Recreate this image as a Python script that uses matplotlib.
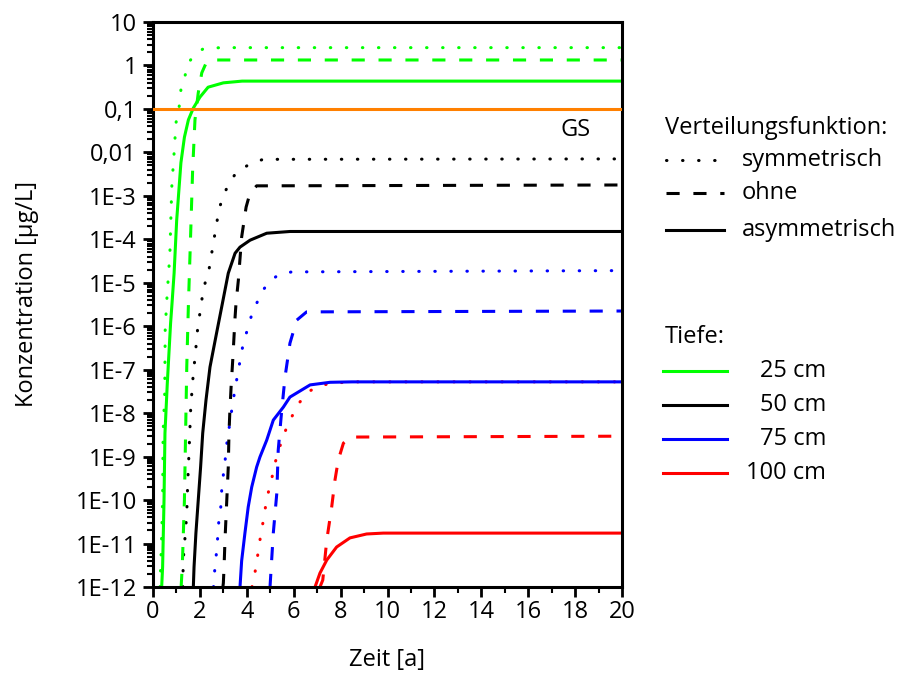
import numpy as np
import matplotlib
matplotlib.use("Agg")
import matplotlib.pyplot as plt
from matplotlib.lines import Line2D
from matplotlib.ticker import FixedLocator, FuncFormatter, LogLocator, MultipleLocator

plt.rcParams['font.family'] = ['Open Sans', 'DejaVu Sans']

# ---- data (time in years, log10 of concentration in ug/L) ----
g_sym_t = [0.30, 0.36, 0.41, 0.43, 0.50, 0.52, 0.58, 0.72, 0.80, 0.90, 0.98, 1.11, 1.19, 1.32, 1.51, 1.76, 2.13, 2.86, 20]
g_sym_l = [-12, -11, -10, -8.46, -7.54, -6.09, -5.47, -4.32, -2.80, -2.01, -1.32, -0.98, -0.56, -0.33, 0.06, 0.24, 0.38, 0.41, 0.41]
g_ohne_t = [1.20, 1.25, 1.34, 1.39, 1.44, 1.51, 1.58, 1.69, 1.79, 1.93, 2.08, 2.29, 2.6, 20]
g_ohne_l = [-12, -11.5, -10, -8.46, -6.93, -5.5, -4.32, -2.41, -1.25, -0.63, -0.17, 0.087, 0.126, 0.126]
g_asym_t = [0.37, 0.41, 0.47, 0.51, 0.61, 0.75, 0.80, 0.90, 1.01, 1.19, 1.34, 1.51, 1.72, 2.0, 2.35, 3.0, 3.8, 20]
g_asym_l = [-12, -11.54, -10, -8.46, -7.31, -5.93, -5.56, -4.78, -3.56, -2.24, -1.65, -1.25, -0.98, -0.73, -0.50, -0.40, -0.36, -0.36]

k_sym_t = [1.27, 1.29, 1.39, 1.44, 1.48, 1.54, 1.61, 1.72, 1.79, 1.91, 2.00, 2.10, 2.22, 2.40, 2.61, 2.81, 2.97, 3.21, 3.54, 4.06, 4.69, 20]
k_sym_l = [-12, -11.38, -10.69, -10.30, -9.61, -8.85, -7.86, -7.08, -6.73, -6.02, -5.70, -5.33, -5.01, -4.66, -3.97, -3.33, -3.03, -2.75, -2.47, -2.29, -2.16, -2.15]
k_ohne_t = [2.98, 3.00, 3.03, 3.07, 3.21, 3.24, 3.28, 3.33, 3.40, 3.50, 3.54, 3.64, 3.78, 3.97, 4.14, 4.42, 20]
k_ohne_l = [-12, -11.91, -11.54, -10.92, -9.24, -8.46, -7.93, -7.40, -6.78, -5.79, -5.47, -4.94, -3.95, -3.26, -2.93, -2.77, -2.75]
k_asym_t = [1.72, 1.75, 1.83, 1.93, 2.03, 2.12, 2.26, 2.43, 2.71, 2.95, 3.21, 3.50, 3.71, 4.14, 4.85, 5.84, 20]
k_asym_l = [-12, -11.54, -10.76, -10, -9.24, -8.46, -7.70, -6.94, -6.16, -5.5, -4.78, -4.32, -4.18, -4.02, -3.86, -3.82, -3.82]

b_sym_t = [2.58, 2.60, 2.64, 2.72, 2.81, 2.89, 2.93, 3.00, 3.07, 3.14, 3.42, 3.53, 3.64, 3.85, 4.02, 4.18, 4.39, 4.64, 4.95, 5.34, 5.91, 20]
b_sym_l = [-12, -11.89, -11.54, -11.15, -10.46, -10.16, -9.77, -9.42, -9.12, -8.73, -7.70, -7.35, -7.01, -6.39, -6.09, -5.79, -5.51, -5.21, -4.98, -4.82, -4.75, -4.72]
b_ohne_t = [4.99, 5.13, 5.28, 5.34, 5.49, 5.63, 5.84, 6.13, 6.55, 20]
b_ohne_l = [-12, -10.76, -9.84, -8.85, -7.93, -7.17, -6.39, -5.86, -5.67, -5.65]
b_asym_t = [3.71, 3.78, 3.92, 4.06, 4.21, 4.42, 4.56, 4.85, 5.13, 5.56, 5.84, 6.27, 6.70, 7.55, 8.5, 20]
b_asym_l = [-12, -11.4, -10.76, -10.16, -9.70, -9.24, -9.01, -8.62, -8.16, -7.86, -7.63, -7.49, -7.35, -7.29, -7.28, -7.28]

r_sym_t = [4.22, 4.32, 4.42, 4.52, 4.61, 4.73, 4.82, 4.96, 5.10, 5.23, 5.39, 5.56, 5.77, 6.03, 6.27, 6.62, 7.05, 7.62, 8.5, 20]
r_sym_l = [-12, -11.77, -11.42, -11.08, -10.73, -10.41, -10.07, -9.72, -9.42, -9.10, -8.80, -8.53, -8.23, -7.97, -7.74, -7.51, -7.38, -7.31, -7.28, -7.28]
r_ohne_t = [7.12, 7.24, 7.41, 7.62, 7.76, 7.90, 8.12, 8.40, 20]
r_ohne_l = [-12, -11.84, -10.92, -10.16, -9.54, -9.08, -8.69, -8.55, -8.53]
r_asym_t = [6.91, 7.12, 7.41, 7.83, 8.40, 9.11, 9.82, 20]
r_asym_l = [-12, -11.68, -11.38, -11.08, -10.87, -10.78, -10.76, -10.76]

gs_value = 0.1
gs_label = "GS"

depth_labels = ["25 cm", "50 cm", "75 cm", "100 cm"]
depth_colors = ["#00ff00", "#000000", "#0000ff", "#ff0000"]
func_labels = ["symmetrisch", "ohne", "asymmetrisch"]

y_tick_exps = list(range(-12, 2))
y_tick_labels = ["1E-12", "1E-11", "1E-10", "1E-9", "1E-8", "1E-7", "1E-6", "1E-5",
                 "1E-4", "1E-3", "0,01", "0,1", "1", "10"]

FS = 17

# ---- figure ----
fig = plt.figure(figsize=(9, 6.79), dpi=100)
ax = fig.add_axes([153/900, 92/679, 469/900, 565/679])

LW = 2.2
DOT = (0, (0.15, 5.1))
DASH = (0, (4.3, 4.5))
styles = [DOT, DASH, '-']
caps = ['round', 'butt', 'butt']

series = [
    [(g_sym_t, g_sym_l), (g_ohne_t, g_ohne_l), (g_asym_t, g_asym_l)],
    [(k_sym_t, k_sym_l), (k_ohne_t, k_ohne_l), (k_asym_t, k_asym_l)],
    [(b_sym_t, b_sym_l), (b_ohne_t, b_ohne_l), (b_asym_t, b_asym_l)],
    [(r_sym_t, r_sym_l), (r_ohne_t, r_ohne_l), (r_asym_t, r_asym_l)],
]

ax.axhline(gs_value, color="#ff8000", lw=LW, zorder=3)
for ci, group in enumerate(series):
    for si, (t, l) in enumerate(group):
        ax.plot(t, 10.0 ** np.array(l), color=depth_colors[ci], lw=LW,
                linestyle=styles[si], dash_capstyle=caps[si], zorder=2 + 0.1 * si)

ax.set_yscale('log')
ax.set_xlim(0, 20)
ax.set_ylim(1e-12, 10)

ax.set_yticks([10.0 ** e for e in y_tick_exps])
ax.set_yticklabels(y_tick_labels)
ax.yaxis.set_minor_locator(LogLocator(base=10, subs=np.arange(2, 10), numticks=100))
ax.yaxis.set_minor_formatter(FuncFormatter(lambda v, p: ""))

ax.xaxis.set_major_locator(MultipleLocator(2))
ax.xaxis.set_minor_locator(MultipleLocator(1))

for s in ax.spines.values():
    s.set_linewidth(2.2)
ax.tick_params(axis='both', which='major', direction='out', length=7.5, width=2,
               labelsize=FS, top=False, right=False)
ax.tick_params(axis='y', which='major', pad=4)
ax.tick_params(axis='x', which='major', pad=2)
ax.tick_params(axis='both', which='minor', direction='out', length=4, width=1.5,
               top=False, right=False)


def fx(px):
    return px / 900.0


def fy(py):
    return 1 - py / 679.0


fig.text(fx(387), fy(660), "Zeit [a]", fontsize=FS, ha='center', va='center')
fig.text(fx(27), fy(294), "Konzentration [µg/L]", fontsize=FS, ha='center', va='center',
         rotation=90)

ax.text(18.0, 0.0327, gs_label, fontsize=FS, ha='center', va='center')

# ---- legends ----
fig.text(fx(665), fy(128), "Verteilungsfunktion:", fontsize=FS, va='center', ha='left')
for i, (lab, ls, cp) in enumerate(zip(func_labels, styles, caps)):
    yy = [160, 193, 230][i]
    fig.add_artist(Line2D([fx(666), fx(724)], [fy(yy), fy(yy)], color='black', lw=LW,
                          linestyle=ls, dash_capstyle=cp, transform=fig.transFigure))
    fig.text(fx(742), fy(yy), lab, fontsize=FS, va='center', ha='left')

fig.text(fx(665), fy(337), "Tiefe:", fontsize=FS, va='center', ha='left')
for i, (lab, c) in enumerate(zip(depth_labels, depth_colors)):
    yy = [371, 405, 439, 473][i]
    fig.add_artist(Line2D([fx(663), fx(727)], [fy(yy), fy(yy)], color=c, lw=LW,
                          transform=fig.transFigure))
    fig.text(fx(826), fy(yy), lab, fontsize=FS, va='center', ha='right')

fig.savefig("out.png", dpi=100)
